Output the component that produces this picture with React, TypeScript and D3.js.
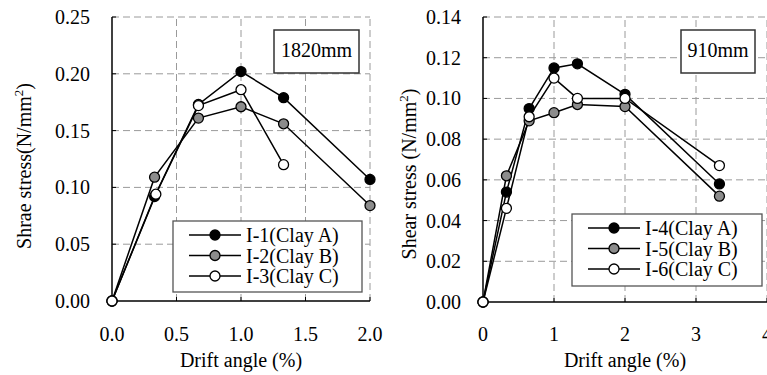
import React from 'react';
import * as d3 from 'd3';

// left panel (1820mm)
const driftA = [0, 0.33, 0.67, 1.0, 1.33, 2.0];
const driftA3 = [0, 0.34, 0.67, 1.0, 1.33];
const clayA1 = [0, 0.092, 0.173, 0.202, 0.179, 0.107];
const clayB2 = [0, 0.109, 0.161, 0.171, 0.156, 0.084];
const clayC3 = [0, 0.094, 0.172, 0.186, 0.120];
const leftXTicks = [0, 0.5, 1.0, 1.5, 2.0];
const leftYTicks = [0, 0.05, 0.1, 0.15, 0.2, 0.25];

// right panel (910mm)
const driftB = [0, 0.33, 0.65, 1.0, 1.33, 2.0, 3.33];
const clayA4 = [0, 0.054, 0.095, 0.115, 0.117, 0.102, 0.058];
const clayB5 = [0, 0.062, 0.089, 0.093, 0.097, 0.096, 0.052];
const clayC6 = [0, 0.046, 0.091, 0.110, 0.100, 0.100, 0.067];
const rightXTicks = [0, 1, 2, 3, 4];
const rightYTicks = [0, 0.02, 0.04, 0.06, 0.08, 0.1, 0.12, 0.14];

const FONT = '"Liberation Serif", "Times New Roman", serif';
const FILLS = ['#000000', '#8c8c8c', '#ffffff'];

type Series = { name: string; x: number[]; y: number[] };

const Panel = ({ series, xDomain, yDomain, xRange, yRange, xTicks, yTicks, xFmt, yFmt,
  yTitle, tag, tagBox, legendBox, titleY }: any) => {
  const x = d3.scaleLinear().domain(xDomain).range(xRange);
  const y = d3.scaleLinear().domain(yDomain).range(yRange);
  const line = d3.line<[number, number]>().x(d => x(d[0])).y(d => y(d[1]));
  const [x0, x1] = xRange;
  const [y0, y1] = yRange;
  const legRows = [legendBox.y + 14, legendBox.y + 34.5, legendBox.y + 55];

  return (
    <g fontFamily={FONT} fill="#000">
      {/* grid */}
      {xTicks.slice(1).map((t: number) => (
        <line key={'gx' + t} x1={x(t)} x2={x(t)} y1={y0} y2={y1} stroke="#9a9a9a" strokeWidth={1} strokeDasharray="7,4" />
      ))}
      {yTicks.slice(1).map((t: number) => (
        <line key={'gy' + t} x1={x0} x2={x1} y1={y(t)} y2={y(t)} stroke="#9a9a9a" strokeWidth={1} strokeDasharray="7,4" />
      ))}
      {/* axes */}
      <line x1={x0} x2={x1} y1={y0} y2={y0} stroke="#000" strokeWidth={1.5} />
      <line x1={x0} x2={x0} y1={y0} y2={y1} stroke="#000" strokeWidth={1.5} />
      {xTicks.map((t: number) => (
        <g key={'tx' + t}>
          <line x1={x(t)} x2={x(t)} y1={y0} y2={y0 - 4} stroke="#000" />
          <text x={x(t)} y={341} fontSize={20} textAnchor="middle">{xFmt(t)}</text>
        </g>
      ))}
      {yTicks.map((t: number) => (
        <g key={'ty' + t}>
          <line x1={x0} x2={x0 + 4} y1={y(t)} y2={y(t)} stroke="#000" />
          <text x={x0 - 22} y={y(t) + 7} fontSize={20} textAnchor="end">{yFmt(t)}</text>
        </g>
      ))}
      <text x={(x0 + x1) / 2} y={367} fontSize={20} textAnchor="middle">Drift angle (%)</text>
      <text transform={`translate(${titleY.x},${titleY.y}) rotate(-90)`} fontSize={20} textAnchor="middle">
        {yTitle}(N/mm<tspan fontSize={13} dy={-8}>2</tspan><tspan dy={8}>)</tspan>
      </text>

      {/* tag box */}
      <rect x={tagBox.x} y={tagBox.y} width={tagBox.w} height={tagBox.h} fill="#fff" stroke="#333" strokeWidth={1.5} />
      <text x={tagBox.x + tagBox.w / 2} y={tagBox.y + 27} fontSize={20} textAnchor="middle">{tag}</text>

      {/* series */}
      {series.map((s: Series) => (
        <path key={'l' + s.name} d={line(s.x.map((v, i) => [v, s.y[i]]) as [number, number][]) || ''}
          fill="none" stroke="#000" strokeWidth={1.5} />
      ))}
      {series.map((s: Series, k: number) => s.x.map((v, i) => (
        <circle key={s.name + i} cx={x(v)} cy={y(s.y[i])} r={5} fill={FILLS[k]} stroke="#000" strokeWidth={1.3} />
      )))}

      {/* legend */}
      <rect x={legendBox.x} y={legendBox.y} width={legendBox.w} height={legendBox.h} fill="#fff" stroke="#555" strokeWidth={1.3} />
      {series.map((s: Series, k: number) => (
        <g key={'lg' + s.name}>
          <line x1={legendBox.x + 16} x2={legendBox.x + 68} y1={legRows[k]} y2={legRows[k]} stroke="#000" strokeWidth={1.5} />
          <circle cx={legendBox.x + 42} cy={legRows[k]} r={5} fill={FILLS[k]} stroke="#000" strokeWidth={1.3} />
          <text x={legendBox.x + 73} y={legRows[k] + 7} fontSize={20}>{s.name}</text>
        </g>
      ))}
    </g>
  );
};

export default function App() {
  const left: Series[] = [
    { name: 'I-1(Clay A)', x: driftA, y: clayA1 },
    { name: 'I-2(Clay B)', x: driftA, y: clayB2 },
    { name: 'I-3(Clay C)', x: driftA3, y: clayC3 },
  ];
  const right: Series[] = [
    { name: 'I-4(Clay A)', x: driftB, y: clayA4 },
    { name: 'I-5(Clay B)', x: driftB, y: clayB5 },
    { name: 'I-6(Clay C)', x: driftB, y: clayC6 },
  ];
  return (
    <div style={{ position: 'absolute', left: 0, top: 0 }}>
      <svg width={767} height={375} style={{ display: 'block', background: '#fff' }}>
        <Panel series={left} xDomain={[0, 2]} yDomain={[0, 0.25]} xRange={[112, 370]} yRange={[301, 17]}
          xTicks={leftXTicks} yTicks={leftYTicks} xFmt={d3.format('.1f')} yFmt={d3.format('.2f')}
          yTitle="Shrae stress" tag="1820mm" tagBox={{ x: 274, y: 30, w: 85, h: 43 }}
          legendBox={{ x: 173, y: 221, w: 189, h: 71 }} titleY={{ x: 31, y: 166 }} />
        <Panel series={right} xDomain={[0, 4]} yDomain={[0, 0.14]} xRange={[483, 767]} yRange={[302, 17]}
          xTicks={rightXTicks} yTicks={rightYTicks} xFmt={d3.format('d')} yFmt={d3.format('.2f')}
          yTitle="Shear stress " tag="910mm" tagBox={{ x: 681, y: 30, w: 74, h: 43 }}
          legendBox={{ x: 572, y: 214, w: 190, h: 72 }} titleY={{ x: 416, y: 174 }} />
      </svg>
    </div>
  );
}
